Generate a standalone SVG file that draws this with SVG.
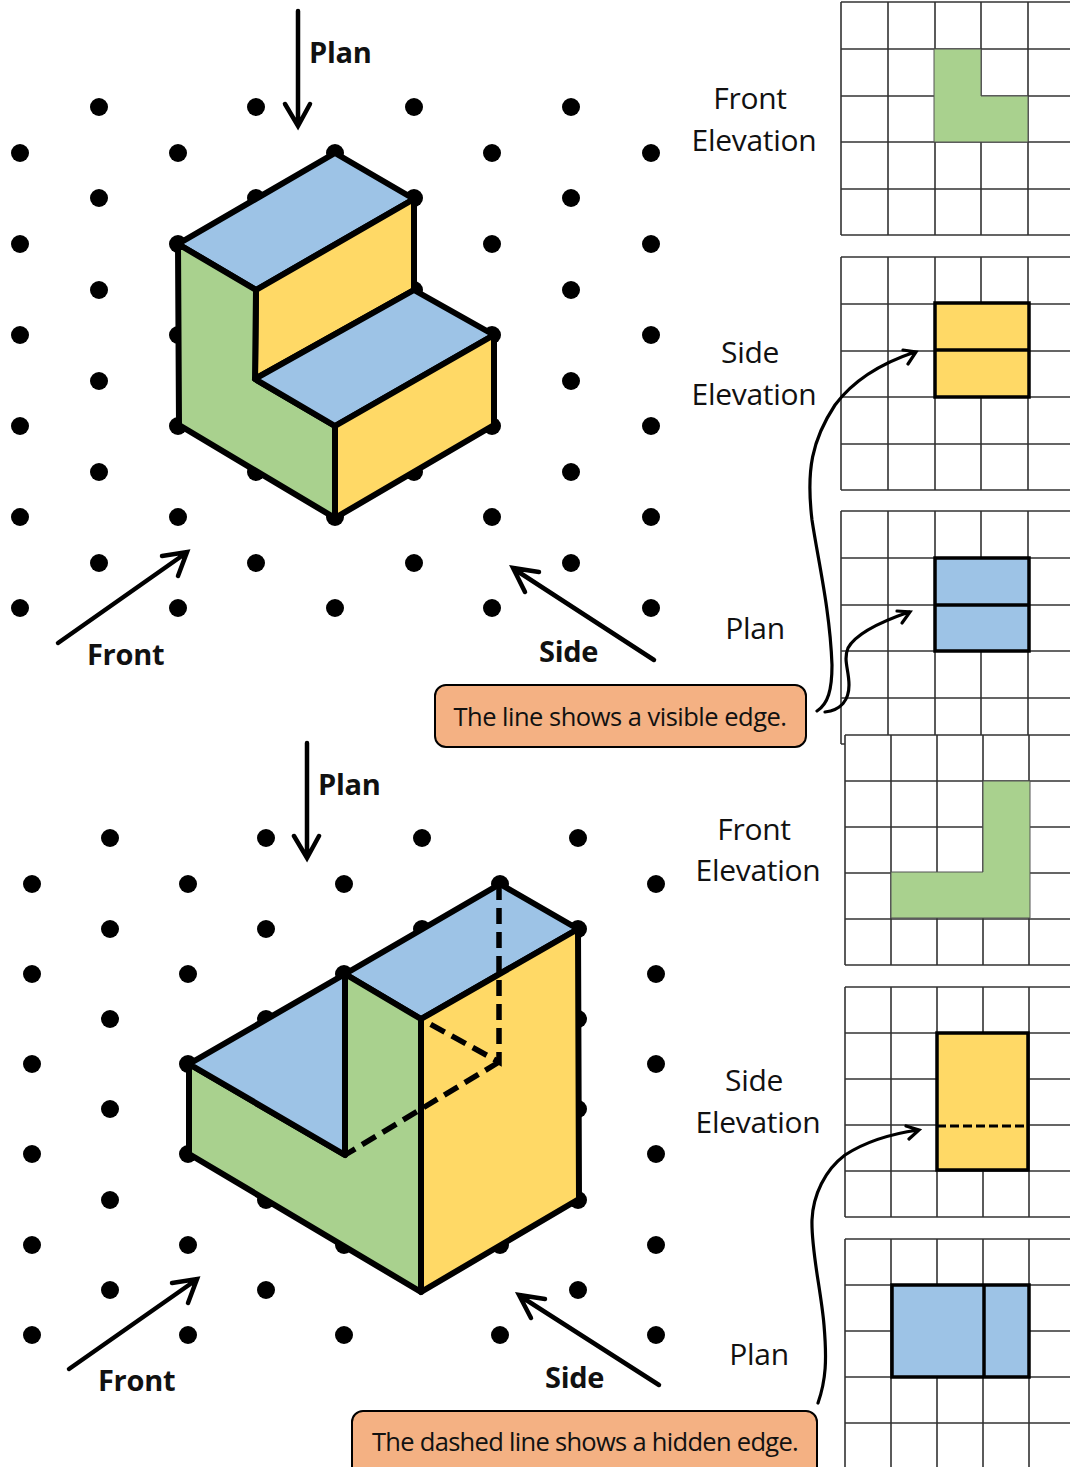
<svg xmlns="http://www.w3.org/2000/svg" width="1070" height="1467" viewBox="0 0 1070 1467">
<style>
text{font-family:"Open Sans","Noto Sans","Liberation Sans",sans-serif;fill:#111}
.lab{font-size:30px;letter-spacing:-.3px}
.b{font-size:29px;font-weight:700;letter-spacing:-.3px}
.c{text-anchor:middle}
.g{stroke:#333;stroke-width:1.6;fill:none}
.s{stroke:#000;stroke-width:6;stroke-linejoin:round}
.e{stroke:#000;stroke-width:3.500;stroke-linejoin:miter}
.bl{fill:#9DC3E6}.gr{fill:#A9D18E}.ye{fill:#FFD966}
.ar{stroke:#000;stroke-width:4.500;fill:none;stroke-linecap:round;stroke-linejoin:miter}
.cv{stroke:#000;stroke-width:3.200;fill:none;stroke-linecap:round;stroke-linejoin:miter}
.box{fill:#F4B183;stroke:#000;stroke-width:2}
</style>
<defs>
<circle id="d" r="9" fill="#000"/>
<path id="grid" class="g" d="M0 0H229M0 47H229M0 94H229M0 140H229M0 187H229M0 233H229M0 0V233M47 0V233M94 0V233M140 0V233M187 0V233"/>
<path id="gridL" class="g" d="M0 0H225M0 46H225M0 92H225M0 138H225M0 184H225M0 230H225M0 0V230M46 0V230M92 0V230M138 0V230M184 0V230"/>
</defs>
<rect width="1070" height="1467" fill="#fff"/>
<g id="dots-upper">
<use href="#d" x="99" y="107"/><use href="#d" x="256" y="107"/><use href="#d" x="414" y="107"/><use href="#d" x="571" y="107"/>
<use href="#d" x="99" y="198"/><use href="#d" x="256" y="198"/><use href="#d" x="414" y="198"/><use href="#d" x="571" y="198"/>
<use href="#d" x="99" y="290"/><use href="#d" x="256" y="290"/><use href="#d" x="414" y="290"/><use href="#d" x="571" y="290"/>
<use href="#d" x="99" y="381"/><use href="#d" x="571" y="381"/>
<use href="#d" x="99" y="472"/><use href="#d" x="256" y="472"/><use href="#d" x="414" y="472"/><use href="#d" x="571" y="472"/>
<use href="#d" x="99" y="563"/><use href="#d" x="256" y="563"/><use href="#d" x="414" y="563"/><use href="#d" x="571" y="563"/>
<use href="#d" x="20" y="153"/><use href="#d" x="178" y="153"/><use href="#d" x="335" y="153"/><use href="#d" x="492" y="153"/><use href="#d" x="651" y="153"/>
<use href="#d" x="20" y="244"/><use href="#d" x="178" y="244"/><use href="#d" x="492" y="244"/><use href="#d" x="651" y="244"/>
<use href="#d" x="20" y="335"/><use href="#d" x="178" y="335"/><use href="#d" x="492" y="335"/><use href="#d" x="651" y="335"/>
<use href="#d" x="20" y="426"/><use href="#d" x="178" y="426"/><use href="#d" x="492" y="426"/><use href="#d" x="651" y="426"/>
<use href="#d" x="20" y="517"/><use href="#d" x="178" y="517"/><use href="#d" x="335" y="517"/><use href="#d" x="492" y="517"/><use href="#d" x="651" y="517"/>
<use href="#d" x="20" y="608"/><use href="#d" x="178" y="608"/><use href="#d" x="335" y="608"/><use href="#d" x="492" y="608"/><use href="#d" x="651" y="608"/>
</g>
<g id="dots-lower">
<use href="#d" x="110" y="838"/><use href="#d" x="266" y="838"/><use href="#d" x="422" y="838"/><use href="#d" x="578" y="838"/>
<use href="#d" x="110" y="929"/><use href="#d" x="266" y="929"/><use href="#d" x="422" y="929"/><use href="#d" x="578" y="929"/>
<use href="#d" x="110" y="1019"/><use href="#d" x="266" y="1019"/><use href="#d" x="578" y="1019"/>
<use href="#d" x="110" y="1109"/><use href="#d" x="578" y="1109"/>
<use href="#d" x="110" y="1200"/><use href="#d" x="266" y="1200"/><use href="#d" x="578" y="1200"/>
<use href="#d" x="110" y="1290"/><use href="#d" x="266" y="1290"/><use href="#d" x="578" y="1290"/>
<use href="#d" x="32" y="884"/><use href="#d" x="188" y="884"/><use href="#d" x="344" y="884"/><use href="#d" x="500" y="884"/><use href="#d" x="656" y="884"/>
<use href="#d" x="32" y="974"/><use href="#d" x="188" y="974"/><use href="#d" x="344" y="974"/><use href="#d" x="656" y="974"/>
<use href="#d" x="32" y="1064"/><use href="#d" x="188" y="1064"/><use href="#d" x="656" y="1064"/>
<use href="#d" x="32" y="1154"/><use href="#d" x="188" y="1154"/><use href="#d" x="656" y="1154"/>
<use href="#d" x="32" y="1245"/><use href="#d" x="188" y="1245"/><use href="#d" x="344" y="1245"/><use href="#d" x="500" y="1245"/><use href="#d" x="656" y="1245"/>
<use href="#d" x="32" y="1335"/><use href="#d" x="188" y="1335"/><use href="#d" x="344" y="1335"/><use href="#d" x="500" y="1335"/><use href="#d" x="656" y="1335"/>
</g>
<g id="solid-upper">
<path class="s bl" d="M335 153L414 199L256 290L178 244Z"/>
<path class="s ye" d="M414 199V290L255 379L256 290Z"/>
<path class="s gr" d="M178 244L256 290L255 379L335 426V518L179 425Z"/>
<path class="s bl" d="M414 290L494 335L335 426L255 379Z"/>
<path class="s ye" d="M494 335V425L335 518V426Z"/>
</g>
<g id="solid-lower">
<path class="s bl" d="M500 884L578 929L421 1019L345 974Z"/>
<path class="s gr" d="M345 974L421 1019V1292L189 1154V1064L345 1155Z"/>
<path class="s ye" d="M578 929L579 1199L421 1292V1019Z"/>
<path class="s bl" d="M345 974V1155L189 1064Z"/>
<path d="M499 884V1062L421 1019M499 1062L345 1155" fill="none" stroke="#000" stroke-width="5.500" stroke-dasharray="16 8"/>
</g>
<g id="grid-front-upper"><use href="#grid" x="841" y="2"/><path class="gr" stroke="#555" d="M934 49H981V96H1028V142H934Z"/></g>
<g id="grid-side-upper"><use href="#grid" x="841" y="257"/><path class="ye e" d="M935 303H1029V397H935Z"/><path class="e" d="M935 350H1029"/></g>
<g id="grid-plan-upper"><use href="#grid" x="841" y="511"/><path class="bl e" d="M935 558H1029V651H935Z"/><path class="e" d="M935 605H1029"/></g>
<g id="grid-front-lower"><rect x="845" y="735" width="225" height="230" fill="#fff"/><use href="#gridL" x="845" y="735"/><path class="gr" stroke="#555" d="M983 781H1030V918H891V872H983Z"/></g>
<g id="grid-side-lower"><use href="#gridL" x="845" y="987"/><path class="ye e" d="M937 1033H1028V1170H937Z"/><path d="M937 1126H1028" stroke="#000" stroke-width="3" stroke-dasharray="9 4"/></g>
<g id="grid-plan-lower"><use href="#gridL" x="845" y="1239"/><path class="bl e" d="M892 1285H1029V1377H892Z"/><path class="e" d="M984 1285V1377"/></g>
<g id="connectors">
<path class="ar" d="M298 11V125M285 104L298 126L310 104"/>
<path class="ar" d="M58 643L186 553M162 556L187 552L178 576"/>
<path class="ar" d="M654 660L514 569M539 572L513 568L525 592"/>
<path class="ar" d="M307 743V857M294 836L307 858L319 836"/>
<path class="ar" d="M69 1369L196 1280M172 1283L197 1279L188 1303"/>
<path class="ar" d="M659 1385L520 1296M545 1299L519 1295L531 1318"/>
<path class="cv" d="M817 711C828 704 832 690 832 665C830 610 818 560 812 520C806 470 812 440 835 405C855 378 885 362 915 352M903 350L916 352L908 364"/>
<path class="cv" d="M825 712C841 710 849 700 849 685C849 670 843 660 848 648C855 635 880 622 909 612M897 611L910 612L902 623"/>
<path class="cv" d="M818 1403C826 1380 827 1360 824 1325C821 1290 811 1250 812 1220C813 1195 825 1170 845 1155C865 1142 890 1134 918 1130M906 1126L919 1130L909 1139"/>
</g>
<g id="callout-visible"><rect class="box" x="435" y="685" width="371" height="62" rx="11"/><text class="c" x="620" y="726" font-size="25.500" letter-spacing="-.5">The line shows a visible edge.</text></g>
<g id="callout-hidden"><rect class="box" x="352" y="1411" width="465" height="70" rx="11"/><text class="c" x="585" y="1451" font-size="25.500" letter-spacing="-.7">The dashed line shows a hidden edge.</text></g>
<g id="labels">
<text class="b" x="309" y="63">Plan</text>
<text class="b" x="87" y="665">Front</text>
<text class="b" x="539" y="662">Side</text>
<text class="b" x="318" y="795">Plan</text>
<text class="b" x="98" y="1391">Front</text>
<text class="b" x="545" y="1388">Side</text>
<text class="lab c" x="750" y="109">Front</text><text class="lab c" x="754" y="151">Elevation</text>
<text class="lab c" x="750" y="363">Side</text><text class="lab c" x="754" y="405">Elevation</text>
<text class="lab c" x="755" y="639">Plan</text>
<text class="lab c" x="754" y="840">Front</text><text class="lab c" x="758" y="881">Elevation</text>
<text class="lab c" x="754" y="1091">Side</text><text class="lab c" x="758" y="1133">Elevation</text>
<text class="lab c" x="759" y="1365">Plan</text>
</g>
</svg>
